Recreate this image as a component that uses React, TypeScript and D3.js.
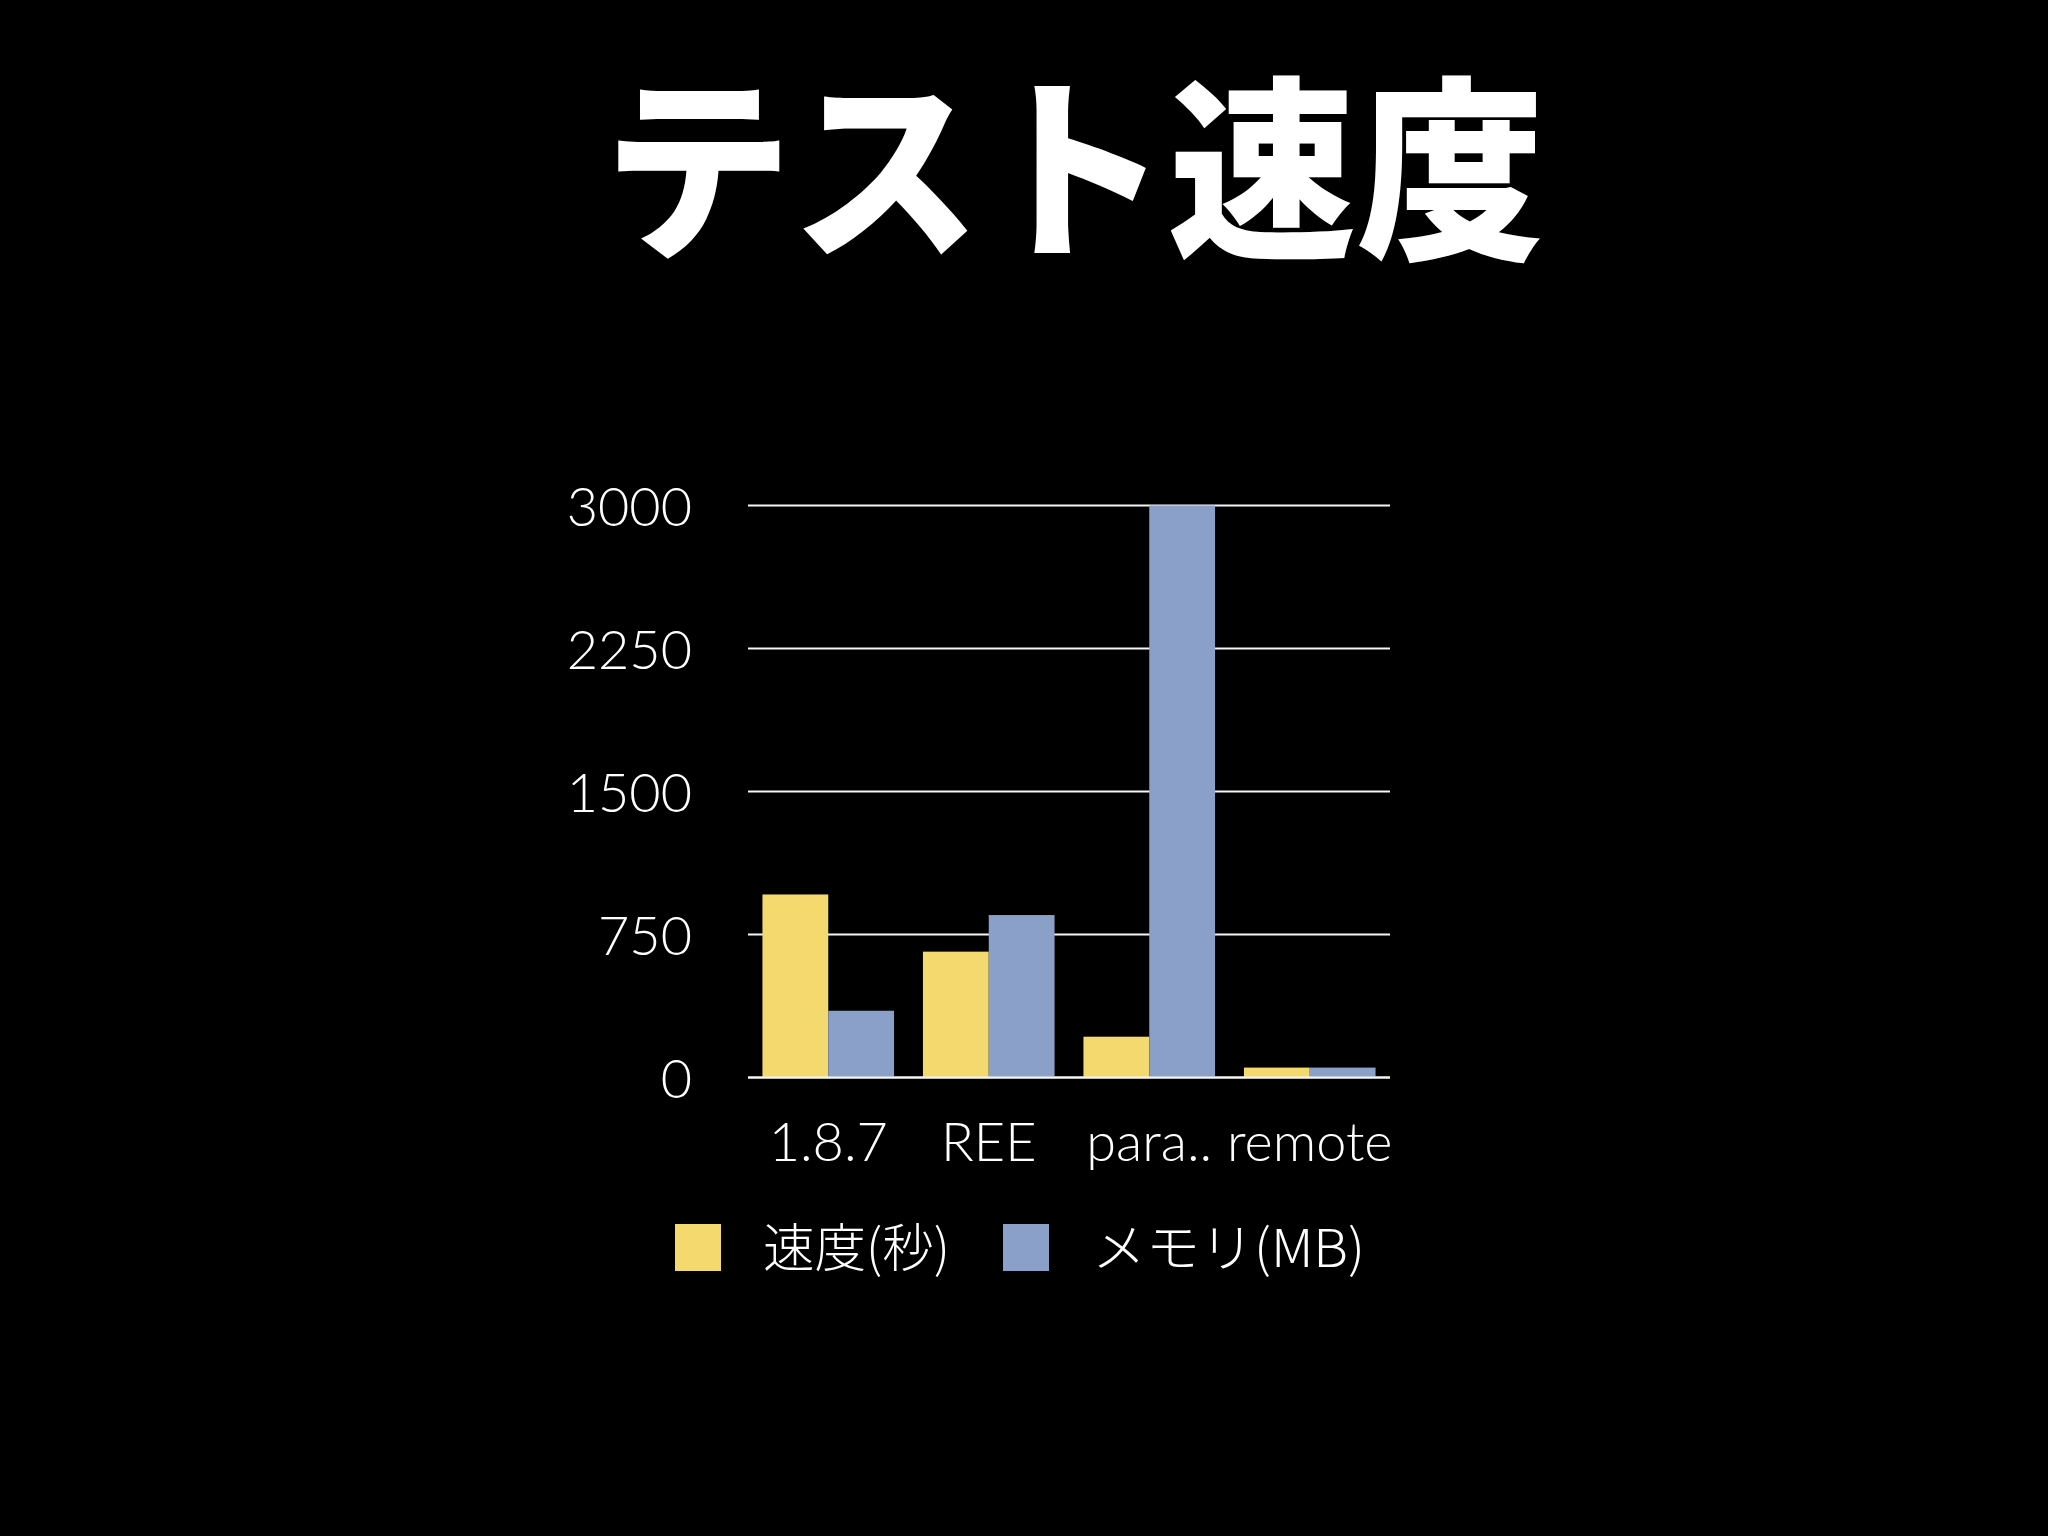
import React from "react";
import * as d3 from "d3";

const categories = ["1.8.7", "REE", "para..", "remote"];
const speedValues = [960, 660, 214, 52];
const memoryValues = [350, 852, 3000, 52];
const yTicks = [0, 750, 1500, 2250, 3000];
const seriesNames = ["速度(秒)", "メモリ(MB)"];
const seriesColors = ["#F4D96F", "#8AA0C8"];
const titleText = "テスト速度";

const W = 2048;
const H = 1536;
const plotLeft = 748;
const plotRight = 1390;
const plotTop = 505.5;
const plotBottom = 1077.5;

export default function App() {
  const x = d3
    .scaleBand<string>()
    .domain(categories)
    .range([plotLeft, plotRight])
    .paddingInner(0.18)
    .paddingOuter(0.09);
  const inner = d3
    .scaleBand<string>()
    .domain(["0", "1"])
    .range([0, x.bandwidth()])
    .padding(0);
  const y = d3.scaleLinear().domain([0, 3000]).range([plotBottom, plotTop]);
  const series = [speedValues, memoryValues];
  const labelFont = "Lato, 'Noto Sans', sans-serif";
  const cjkFont = "'Noto Sans CJK JP', 'Noto Sans', sans-serif";
  const legend = [
    { sx: 675, tx: 763, len: 187 },
    { sx: 1003, tx: 1092, len: 273 },
  ];

  return (
    <div style={{ position: "fixed", left: 0, top: 0, width: W, height: H, background: "#000" }}>
      <svg width={W} height={H} viewBox={`0 0 ${W} ${H}`} style={{ display: "block" }}>
        <rect x={0} y={0} width={W} height={H} fill="#000" />
        <text
          x={1074}
          y={243}
          textAnchor="middle"
          fill="#fff"
          fontFamily={cjkFont}
          fontWeight={900}
          fontSize={196}
          textLength={941}
          lengthAdjust="spacingAndGlyphs"
        >
          {titleText}
        </text>

        {yTicks.map((t) => (
          <g key={t}>
            <line x1={plotLeft} x2={plotRight} y1={y(t)} y2={y(t)} stroke="#f6f6f6" strokeWidth={2} />
            <text
              x={692}
              y={y(t)}
              textAnchor="end"
              dominantBaseline="central"
              fill="#fff"
              fontFamily={labelFont}
              fontWeight={300}
              fontSize={54}
            >
              {t}
            </text>
          </g>
        ))}

        {categories.map((c, i) => (
          <g key={c}>
            {series.map((vals, s) => (
              <rect
                key={s}
                x={(x(c) as number) + (inner(String(s)) as number)}
                y={y(vals[i])}
                width={inner.bandwidth()}
                height={plotBottom - y(vals[i])}
                fill={seriesColors[s]}
              />
            ))}
            <text
              x={(x(c) as number) + x.bandwidth() / 2}
              y={1161}
              textAnchor="middle"
              fill="#fff"
              fontFamily={labelFont}
              fontWeight={300}
              fontSize={54}
            >
              {c}
            </text>
          </g>
        ))}
        <line x1={plotLeft} x2={plotRight} y1={plotBottom} y2={plotBottom} stroke="#f6f6f6" strokeWidth={2} />

        {seriesNames.map((name, s) => (
          <g key={name}>
            <rect x={legend[s].sx} y={1224} width={46} height={47} fill={seriesColors[s]} />
            <text
              x={legend[s].tx}
              y={1244}
              dominantBaseline="central"
              fill="#fff"
              fontFamily={cjkFont}
              fontWeight={300}
              fontSize={52}
              textLength={legend[s].len}
              lengthAdjust="spacingAndGlyphs"
            >
              {name}
            </text>
          </g>
        ))}
      </svg>
    </div>
  );
}
